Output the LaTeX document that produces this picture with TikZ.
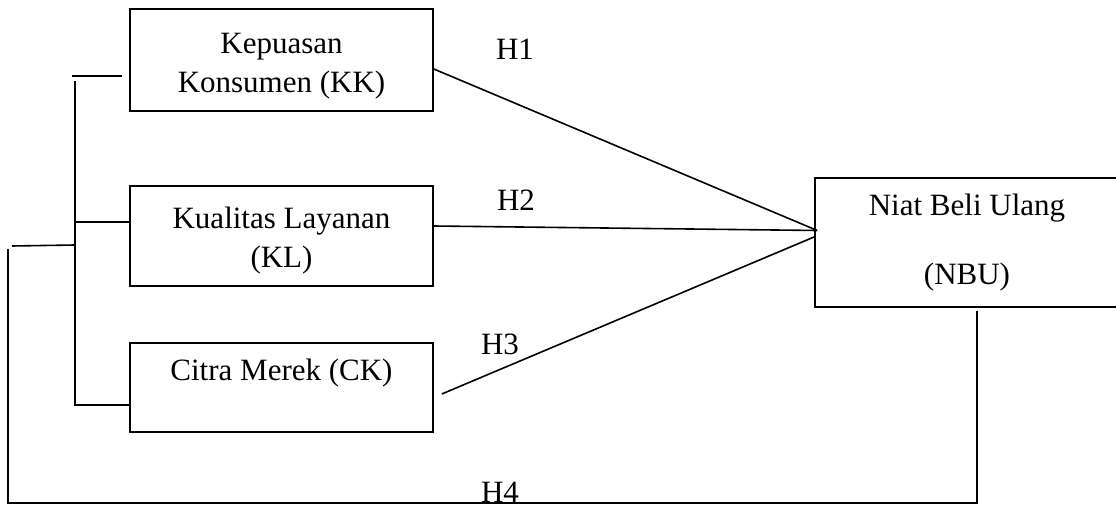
\documentclass[tikz,border=0pt]{standalone}
\usepackage{fontspec}
\setmainfont{Liberation Serif}
\usetikzlibrary{calc}

\begin{document}
\begin{tikzpicture}[x=0.5pt,y=-0.5pt,line width=0.8pt,
  every node/.style={font=\fontsize{15.5}{19.5}\selectfont},
  varbox/.style={draw,minimum width=151.5pt,align=center,inner sep=0pt}]
\useasboundingbox (0,0) rectangle (1116,507);
\clip (0,0) rectangle (1116,507);
% variables
\node[varbox,minimum height=51pt] (KK) at (281.5,60) {\rule{0pt}{16.7pt}Kepuasan\\Konsumen (KK)};
\node[varbox,minimum height=50pt] (KL) at (281.5,236) {\rule{0pt}{15.7pt}Kualitas Layanan\\(KL)};
\node[varbox,minimum height=44.5pt,text depth=18pt] (CK) at (281.5,387.5) {Citra Merek (CK)};
\node[varbox,draw=none,minimum width=151pt,minimum height=63.5pt] (NBU) at (967,242.5) {Niat Beli Ulang\\[15pt](NBU)};
\draw ($(NBU.north east)+(20,0)$) -- (NBU.north west) -- (NBU.south west) -- ($(NBU.south east)+(20,0)$);
% hypotheses
\foreach \n/\x/\y in {1/515/49,2/516/200,3/500/344,4/500/492}
  \node (h\n) at (\x,\y) {H\n};
\coordinate (nbuin) at ($(NBU.west)+(2,-12)$);
\draw ($(KK.east)+(0,9)$) -- (nbuin);
\draw ($(KL.east)+(0,-10)$) -- (nbuin);
\draw ($(CK.east)+(8,6.5)$) -- ($(nbuin)+(-2,6)$);
% bracket on the left
\coordinate (top) at (75,81);
\coordinate (bot) at (75,405);
\draw (top) -- (bot) -- (CK.west |- bot);
\draw ($(top)+(-3,-5)$) -- ($(KK.west |- top)+(-7,-5)$);
\draw ($(KL.west)+(0,-14)$) -- ($(top |- KL.west)+(0,-14)$);
% back from NBU
\coordinate (fb) at (977,311);
\coordinate (lp) at (8,249);
\coordinate (lj) at (75,245);
\draw (fb) -- ($(fb)+(0,192)$) -| (lp);
\draw ($(lp)+(4,-3)$) -- (lj);
\end{tikzpicture}
\end{document}
